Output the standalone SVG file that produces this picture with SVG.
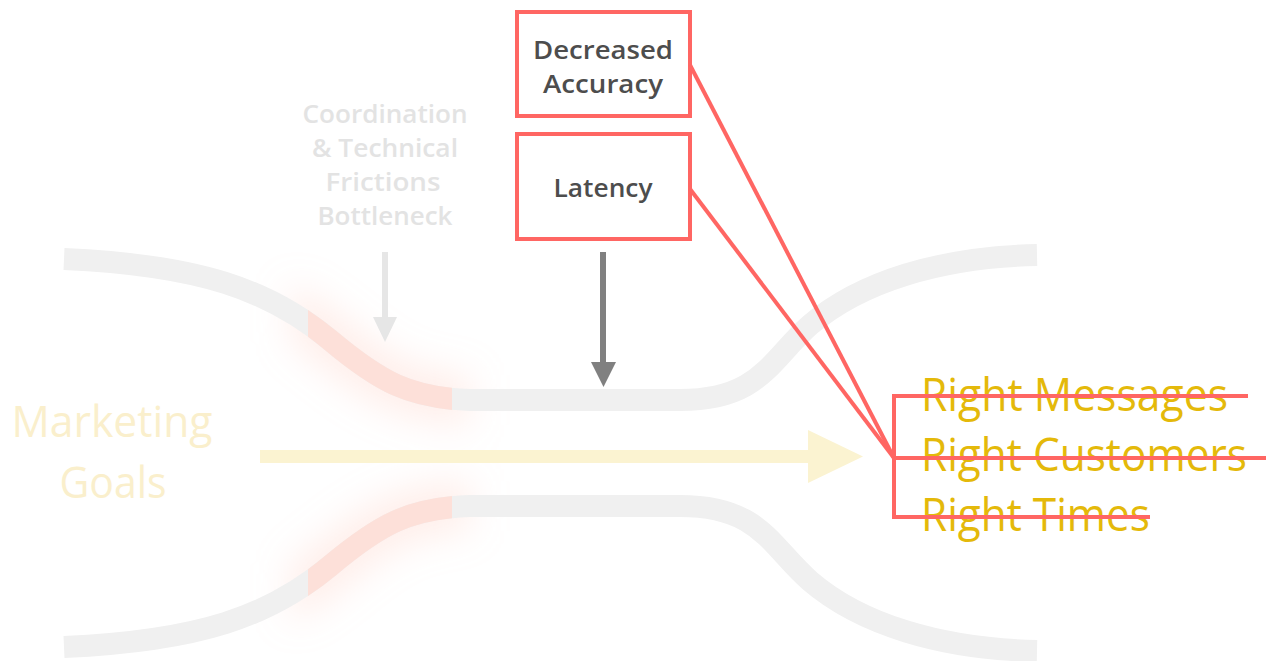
<svg xmlns="http://www.w3.org/2000/svg" width="1278" height="661" viewBox="0 0 1278 661">
<style>
.pipe{fill:none;stroke:#f0f0f0;stroke-width:22;stroke-linecap:butt}
.hot{fill:none;stroke:#fde0d9;stroke-width:22;stroke-linecap:butt}
.glow{fill:none;stroke:#ffc2b3;stroke-width:50;opacity:0.28}
.box{fill:#fff;stroke:#ff6663;stroke-width:4}
.lbl{font-family:"Open Sans","Liberation Sans",sans-serif;font-weight:600;font-size:25px;fill:#4d4d4d;text-anchor:middle}
.faint{font-family:"Open Sans","Liberation Sans",sans-serif;font-weight:600;font-size:25px;fill:#e3e3e3;text-anchor:middle}
.goal{font-family:"Open Sans","Noto Sans","Liberation Sans",sans-serif;font-size:44px;fill:#faefcc;text-anchor:middle}
.right{font-family:"Open Sans","Noto Sans","Liberation Sans",sans-serif;font-size:45px;fill:#e4b90a}
.conn{fill:none;stroke:#ff6663;stroke-width:4}
</style>
<defs>
<path id="pt" d="M64,259 C200,265 270,290 330,340 C380,382 410,398 470,400 L680,400 C760,400 770,360 810,325 C860,282 940,257 1037,255"/>
<clipPath id="seg"><rect x="308" y="0" width="144" height="661"/></clipPath>
<clipPath id="gseg"><rect x="290" y="0" width="180" height="661"/></clipPath>
<filter id="blur" x="-50%" y="-50%" width="200%" height="200%"><feGaussianBlur stdDeviation="18"/></filter>
</defs>
<rect width="1278" height="661" fill="#fff"/>
<g id="pipes">
  <g filter="url(#blur)">
    <use href="#pt" class="glow" clip-path="url(#gseg)"/>
    <use href="#pt" class="glow" clip-path="url(#gseg)" transform="matrix(1 0 0 -1 0 906)"/>
  </g>
  <use href="#pt" class="pipe"/>
  <use href="#pt" class="pipe" transform="matrix(1 0 0 -1 0 906)"/>
  <use href="#pt" class="hot" clip-path="url(#seg)"/>
  <use href="#pt" class="hot" clip-path="url(#seg)" transform="matrix(1 0 0 -1 0 906)"/>
</g>
<g id="goal-arrow">
  <rect x="260" y="450" width="549" height="13" fill="#fbf3d1"/>
  <polygon points="808,430 863,456.5 808,483" fill="#fbf3d1"/>
</g>
<g id="marketing-goals">
  <text class="goal" x="112" y="437" textLength="201" lengthAdjust="spacingAndGlyphs">Marketing</text>
  <text class="goal" x="113" y="498" textLength="107" lengthAdjust="spacingAndGlyphs">Goals</text>
</g>
<g id="bottleneck">
  <text class="faint" x="385" y="123" textLength="165" lengthAdjust="spacingAndGlyphs">Coordination</text>
  <text class="faint" x="385" y="157" textLength="146" lengthAdjust="spacingAndGlyphs">&amp; Technical</text>
  <text class="faint" x="383" y="191" textLength="115" lengthAdjust="spacingAndGlyphs">Frictions</text>
  <text class="faint" x="385" y="225" textLength="135" lengthAdjust="spacingAndGlyphs">Bottleneck</text>
  <line x1="385" y1="252" x2="385" y2="320" stroke="#e6e6e6" stroke-width="6"/>
  <polygon points="373,317 397,317 385,342" fill="#e6e6e6"/>
</g>
<g id="latency-arrow">
  <line x1="603" y1="252" x2="603" y2="365" stroke="#808080" stroke-width="6"/>
  <polygon points="591,362 616,362 603.5,387" fill="#808080"/>
</g>
<g id="decreased-accuracy">
  <rect class="box" x="517" y="12" width="173" height="104"/>
  <text class="lbl" x="603" y="59" textLength="140" lengthAdjust="spacingAndGlyphs">Decreased</text>
  <text class="lbl" x="603" y="93" textLength="120" lengthAdjust="spacingAndGlyphs">Accuracy</text>
</g>
<g id="latency">
  <rect class="box" x="517" y="134" width="173" height="105"/>
  <text class="lbl" x="603" y="197" textLength="99" lengthAdjust="spacingAndGlyphs">Latency</text>
</g>
<g id="outcomes">
  <text class="right" x="921" y="411" textLength="307" lengthAdjust="spacingAndGlyphs">Right Messages</text>
  <text class="right" x="921" y="471" textLength="326" lengthAdjust="spacingAndGlyphs">Right Customers</text>
  <text class="right" x="921" y="531" textLength="229" lengthAdjust="spacingAndGlyphs">Right Times</text>
</g>
<g id="connectors">
  <line class="conn" x1="690" y1="65" x2="894" y2="458"/>
  <line class="conn" x1="690" y1="189" x2="894" y2="458"/>
  <polyline class="conn" points="1248,396 894,396 894,517 1150,517"/>
  <line class="conn" x1="894" y1="458" x2="1266" y2="458"/>
</g>
</svg>
